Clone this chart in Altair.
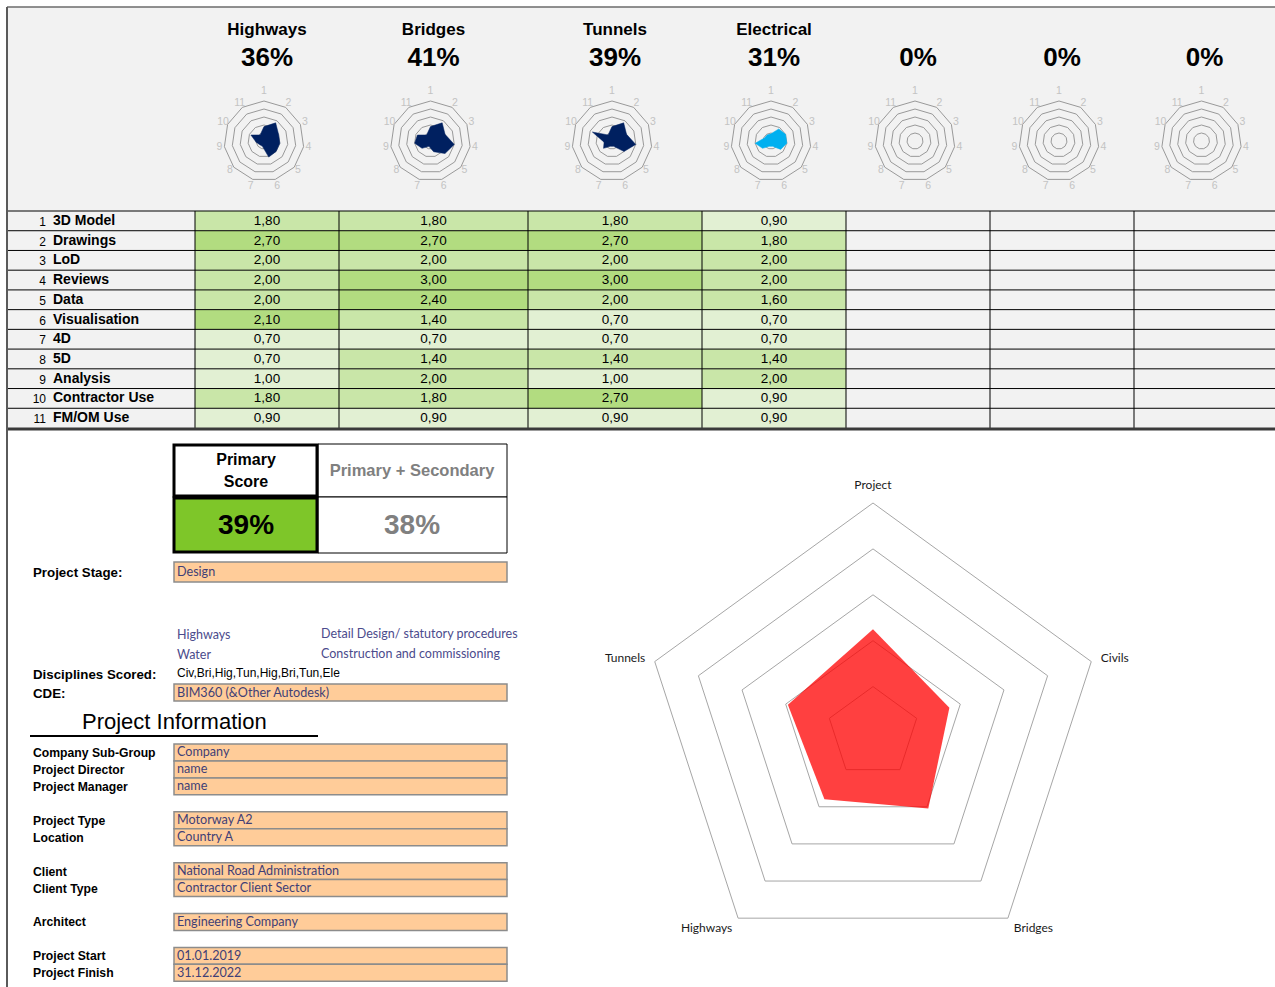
import altair as alt
import pandas as pd

# ------------------------------------------------------------------ data
disciplines = ["Highways", "Bridges", "Tunnels", "Electrical", "", "", ""]
discipline_scores = [36, 41, 39, 31, 0, 0, 0]
criteria = ["3D Model", "Drawings", "LoD", "Reviews", "Data", "Visualisation",
            "4D", "5D", "Analysis", "Contractor Use", "FM/OM Use"]
highways = [1.80, 2.70, 2.00, 2.00, 2.00, 2.10, 0.70, 0.70, 1.00, 1.80, 0.90]
bridges = [1.80, 2.70, 2.00, 3.00, 2.40, 1.40, 0.70, 1.40, 2.00, 1.80, 0.90]
tunnels = [1.80, 2.70, 2.00, 3.00, 2.00, 0.70, 0.70, 1.40, 1.00, 2.70, 0.90]
electrical = [0.90, 1.80, 2.00, 2.00, 1.60, 0.70, 0.70, 1.40, 2.00, 0.90, 0.90]
small_radar_max = 5
small_radar_rings = [1, 2, 3, 4, 5]

primary_score = 39
secondary_score = 38
primary_header = ["Primary", "Score"]
secondary_header = "Primary + Secondary"

overview_axes = ["Project", "Civils", "Bridges", "Highways", "Tunnels"]
overview_values = [45, 35, 41, 36, 39]
overview_rings = [20, 40, 60, 80, 100]
overview_max = 100

project_stage = "Design"
listed_disciplines = ["Highways", "Water"]
listed_stages = ["Detail Design/ statutory procedures", "Construction and commissioning"]
disciplines_scored = "Civ,Bri,Hig,Tun,Hig,Bri,Tun,Ele"
cde = "BIM360 (&Other Autodesk)"
info_labels = ["Company Sub-Group", "Project Director", "Project Manager", "Project Type",
               "Location", "Client", "Client Type", "Architect", "Project Start", "Project Finish"]
info_values = ["Company", "name", "name", "Motorway A2", "Country A",
               "National Road Administration", "Contractor Client Sector",
               "Engineering Company", "01.01.2019", "31.12.2022"]

# ------------------------------------------------------------------ layout / style
W, H = 1275, 987
col_edges = [7, 195, 339, 528, 702, 846, 990, 1134, 1275]
table_top, table_bottom = 211, 428
n_rows = len(criteria)
row_h = (table_bottom - table_top) / n_rows
small_cy, small_r, small_label_r = 141, 40, 45
big_cx, big_cy, big_r = 873, 732.5, 229.5
info_slots = [0, 1, 2, 4, 5, 7, 8, 10, 12, 13]
info_top, info_row_h = 744, 16.95
box_x0, box_x1 = 174, 507

ARIAL = "Liberation Sans"
CALIBRI = "Lato"
INPUT_TXT = "#3f3f76"
INPUT_FILL = "#ffcc99"
INPUT_STROKE = "#8c8c8c"
GREEN_LIGHT, GREEN_MID, GREEN_DARK = "#e2f0d3", "#c9e6a8", "#b2dc80"

XS = alt.Scale(domain=[0, W], range=[0, W], nice=False, zero=False)
YS = alt.Scale(domain=[0, H], range=[0, H], nice=False, zero=False)


def X(f="x"):
    return alt.X(f"{f}:Q", scale=XS, axis=None)


def Y(f="y"):
    return alt.Y(f"{f}:Q", scale=YS, axis=None)


def rects(df, **mark):
    return alt.Chart(df).mark_rect(**mark).encode(x=X("x0"), x2="x1", y=Y("y0"), y2="y1")


def texts(df, **mark):
    return alt.Chart(df).mark_text(**mark).encode(x=X(), y=Y(), text="text:N")


def hrules(df, **mark):
    return alt.Chart(df).mark_rule(**mark).encode(x=X("x0"), x2="x1", y=Y())


def vrules(df, **mark):
    return alt.Chart(df).mark_rule(**mark).encode(x=X(), y=Y("y0"), y2="y1")


layers = []

# ------------------------------------------------------------------ top section
layers.append(rects(pd.DataFrame({"x0": [7], "x1": [W], "y0": [7], "y1": [table_bottom]}),
                    color="#f2f2f2"))

col_centers = [(col_edges[i + 1] + col_edges[i + 2]) / 2 for i in range(len(disciplines))]
hdr = pd.DataFrame({"x": col_centers, "name": disciplines, "score": discipline_scores})
layers.append(alt.Chart(hdr).transform_filter("datum.name != ''").transform_calculate(
    y="30", text="datum.name").mark_text(font=ARIAL, fontSize=17, fontWeight="bold",
                                          color="#000", baseline="middle")
    .encode(x=X(), y=Y(), text="text:N"))
layers.append(alt.Chart(hdr).transform_calculate(y="58", text="datum.score + '%'")
              .mark_text(font=ARIAL, fontSize=26, fontWeight="bold", color="#000", baseline="middle")
              .encode(x=X(), y=Y(), text="text:N"))

# small radars
n_ax = len(criteria)
ring_rows = []
label_rows = []
for p, cx in enumerate(col_centers):
    cxr = cx - 3
    for ring in small_radar_rings:
        for k in range(n_ax + 1):
            ring_rows.append({"panel": p, "cx": cxr, "ring": ring, "k": k})
    for k in range(n_ax):
        label_rows.append({"panel": p, "cx": cxr, "k": k, "text": str(k + 1)})
small_rings = pd.DataFrame(ring_rows)
small_labels = pd.DataFrame(label_rows)

ang = f"2*PI*datum.k/{n_ax}"
layers.append(alt.Chart(small_rings).transform_calculate(
    x=f"datum.cx + datum.ring/{small_radar_max}*{small_r}*sin({ang})",
    y=f"{small_cy} - datum.ring/{small_radar_max}*{small_r}*cos({ang})",
    grp="datum.panel*100 + datum.ring"
).mark_line(color="#8f8f8f", strokeWidth=0.9).encode(x=X(), y=Y(), order="k:Q", detail="grp:N"))

series = [highways, bridges, tunnels, electrical]
poly_colors = ["#002060", "#002060", "#002060", "#00b0f0"]
for p, vals in enumerate(series):
    dfp = pd.DataFrame({"k": list(range(n_ax + 1)), "value": vals + [vals[0]],
                        "cx": col_centers[p] - 3})
    layers.append(alt.Chart(dfp).transform_calculate(
        x=f"datum.cx + datum.value/{small_radar_max}*{small_r}*sin({ang})",
        y=f"{small_cy} - datum.value/{small_radar_max}*{small_r}*cos({ang})"
    ).mark_line(fill=poly_colors[p], stroke=poly_colors[p], strokeWidth=0.5)
        .encode(x=X(), y=Y(), order="k:Q"))

layers.append(alt.Chart(small_labels).transform_calculate(
    lr=f"{small_label_r} + (datum.k == 0 ? 5 : 0) + (cos({ang}) < -0.9 ? 2 : 0)"
).transform_calculate(
    x=f"datum.cx + datum.lr*sin({ang})",
    y=f"{small_cy} - datum.lr*cos({ang})"
).mark_text(font=ARIAL, fontSize=10.5, color="#c3c3c3", baseline="middle")
    .encode(x=X(), y=Y(), text="text:N"))

# table cells
cell_rows = []
for c, vals in enumerate(series):
    for r, v in enumerate(vals):
        cell_rows.append({"x0": col_edges[c + 1], "x1": col_edges[c + 2],
                          "r": r, "value": v, "x": col_centers[c]})
cells = pd.DataFrame(cell_rows)
layers.append(alt.Chart(cells).transform_calculate(
    y0=f"{table_top} + datum.r*{row_h}", y1=f"{table_top} + (datum.r+1)*{row_h}"
).mark_rect().encode(
    x=X("x0"), x2="x1", y=Y("y0"), y2="y1",
    color=alt.Color("value:Q", legend=None,
                    scale=alt.Scale(type="threshold", domain=[1.2, 2.05],
                                    range=[GREEN_LIGHT, GREEN_MID, GREEN_DARK]))))

layers.append(alt.Chart(cells).transform_calculate(
    y=f"{table_top} + (datum.r+0.5)*{row_h}",
    text="replace(format(datum.value, '.2f'), '.', ',')"
).mark_text(font=ARIAL, fontSize=13.5, color="#000", baseline="middle")
    .encode(x=X(), y=Y(), text="text:N"))

rowlab = pd.DataFrame({"r": list(range(n_rows)), "name": criteria})
layers.append(alt.Chart(rowlab).transform_calculate(
    x="46", y=f"{table_top} + (datum.r+0.5)*{row_h} + 1", text="datum.r + 1"
).mark_text(font=ARIAL, fontSize=12, color="#000", baseline="middle", align="right")
    .encode(x=X(), y=Y(), text="text:N"))
layers.append(alt.Chart(rowlab).transform_calculate(
    x="53", y=f"{table_top} + (datum.r+0.5)*{row_h}", text="datum.name"
).mark_text(font=ARIAL, fontSize=14, fontWeight="bold", color="#000", baseline="middle",
            align="left").encode(x=X(), y=Y(), text="text:N"))

# table grid
hl = pd.DataFrame({"x0": 7, "x1": W, "y": [table_top + i * row_h for i in range(n_rows)]})
layers.append(hrules(hl, color="#000", strokeWidth=1))
vl = pd.DataFrame({"x": col_edges[1:-1], "y0": table_top, "y1": table_bottom})
layers.append(vrules(vl, color="#000", strokeWidth=1))
layers.append(hrules(pd.DataFrame({"x0": [7], "x1": [W], "y": [429]}), color="#3a3a3a",
                     strokeWidth=3))
layers.append(hrules(pd.DataFrame({"x0": [7], "x1": [W], "y": [7]}), color="#6b6b6b",
                     strokeWidth=1.5))
layers.append(vrules(pd.DataFrame({"x": [7], "y0": [7], "y1": [H]}), color="#5a5a5a",
                     strokeWidth=2))

# ------------------------------------------------------------------ score boxes
layers.append(rects(pd.DataFrame({"x0": [318, 318], "x1": [507, 507],
                                  "y0": [444, 497], "y1": [497, 553]}),
                    fill="#ffffff", stroke="#000", strokeWidth=1))
layers.append(rects(pd.DataFrame({"x0": [174], "x1": [317], "y0": [445], "y1": [496]}),
                    fill="#ffffff", stroke="#000", strokeWidth=3))
layers.append(rects(pd.DataFrame({"x0": [174], "x1": [317], "y0": [498], "y1": [552]}),
                    fill="#7ec629", stroke="#000", strokeWidth=3))
layers.append(texts(pd.DataFrame({"x": [246, 246], "y": [460, 482], "text": primary_header}),
                    font=ARIAL, fontSize=16, fontWeight="bold", color="#000", baseline="middle"))
layers.append(texts(pd.DataFrame({"x": [412], "y": [471], "text": [secondary_header]}),
                    font=ARIAL, fontSize=16.5, fontWeight="bold", color="#808080",
                    baseline="middle"))
layers.append(alt.Chart(pd.DataFrame({"x": [246], "y": [526], "v": [primary_score]}))
              .transform_calculate(text="datum.v + '%'")
              .mark_text(font=ARIAL, fontSize=28, fontWeight="bold", color="#000", baseline="middle")
              .encode(x=X(), y=Y(), text="text:N"))
layers.append(alt.Chart(pd.DataFrame({"x": [412], "y": [526], "v": [secondary_score]}))
              .transform_calculate(text="datum.v + '%'")
              .mark_text(font=ARIAL, fontSize=28, fontWeight="bold", color="#808080",
                         baseline="middle")
              .encode(x=X(), y=Y(), text="text:N"))

# ------------------------------------------------------------------ form
form_boxes = [(project_stage, 562, 582), (cde, 684, 701)]
head_labels = [("Project Stage:", 573), ("Disciplines Scored:", 675), ("CDE:", 694)]
form_labels = []
for lab, s in zip(info_labels, info_slots):
    y0 = info_top + s * info_row_h
    form_labels.append((lab, y0 + info_row_h / 2 + 0.5))
for val, s in zip(info_values, info_slots):
    y0 = info_top + s * info_row_h
    form_boxes.append((val, y0, y0 + info_row_h))

fb = pd.DataFrame({"text": [b[0] for b in form_boxes], "y0": [b[1] for b in form_boxes],
                   "y1": [b[2] for b in form_boxes], "x0": box_x0, "x1": box_x1})
fb["x"] = box_x0 + 3
fb["y"] = (fb["y0"] + fb["y1"]) / 2
layers.append(rects(fb, fill=INPUT_FILL, stroke=INPUT_STROKE, strokeWidth=1.5))
layers.append(texts(fb, font=CALIBRI, fontSize=12.6, color=INPUT_TXT, baseline="middle",
                    align="left"))
fl = pd.DataFrame({"text": [l[0] for l in form_labels], "y": [l[1] for l in form_labels],
                   "x": 33})
layers.append(texts(fl, font=ARIAL, fontSize=12.2, fontWeight="bold", color="#000",
                    baseline="middle", align="left"))
hlab = pd.DataFrame({"text": [l[0] for l in head_labels], "y": [l[1] for l in head_labels],
                     "x": 33})
layers.append(texts(hlab, font=ARIAL, fontSize=13.3, fontWeight="bold", color="#000",
                    baseline="middle", align="left"))

lst = pd.DataFrame({"text": listed_disciplines + listed_stages,
                    "x": [177, 177, 321, 321], "y": [635, 655, 634, 654]})
layers.append(texts(lst, font=CALIBRI, fontSize=12.5, color="#4b4b8c", baseline="middle",
                    align="left"))
layers.append(texts(pd.DataFrame({"text": [disciplines_scored], "x": [177], "y": [673]}),
                    font=ARIAL, fontSize=12, color="#000", baseline="middle", align="left"))

layers.append(texts(pd.DataFrame({"text": ["Project Information"], "x": [82], "y": [722]}),
                    font=ARIAL, fontSize=22, color="#000", baseline="middle", align="left"))
layers.append(hrules(pd.DataFrame({"x0": [30], "x1": [318], "y": [736]}), color="#000",
                     strokeWidth=2))

# ------------------------------------------------------------------ overview radar
n_big = len(overview_axes)
bang = f"2*PI*datum.k/{n_big}"
br = pd.DataFrame([{"ring": r, "k": k} for r in overview_rings for k in range(n_big + 1)])
layers.append(alt.Chart(br).transform_calculate(
    x=f"{big_cx} + datum.ring/{overview_max}*{big_r}*sin({bang})",
    y=f"{big_cy} - datum.ring/{overview_max}*{big_r}*cos({bang})"
).mark_line(color="#a6a6a6", strokeWidth=1).encode(x=X(), y=Y(), order="k:Q", detail="ring:N"))

bp = pd.DataFrame({"k": list(range(n_big + 1)), "value": overview_values + [overview_values[0]]})
layers.append(alt.Chart(bp).transform_calculate(
    x=f"{big_cx} + datum.value/{overview_max}*{big_r}*sin({bang})",
    y=f"{big_cy} - datum.value/{overview_max}*{big_r}*cos({bang})"
).mark_line(fill="#ff0000", fillOpacity=0.75, strokeWidth=0).encode(x=X(), y=Y(), order="k:Q"))

bl = pd.DataFrame({"k": list(range(n_big)), "text": overview_axes})
bl_base = alt.Chart(bl).transform_calculate(
    sn=f"sin({bang})", cs=f"cos({bang})"
).transform_calculate(
    rr=f"{big_r} + (abs(datum.sn) < 0.1 ? 18 : 10)",
    dy="datum.cs < -0.5 ? 2 : 0"
).transform_calculate(
    x=f"{big_cx} + datum.rr*datum.sn", y=f"{big_cy} - datum.rr*datum.cs + datum.dy"
)
for cond, al in [("datum.sn > 0.1", "left"), ("datum.sn < -0.1", "right"),
                 ("abs(datum.sn) <= 0.1", "center")]:
    layers.append(bl_base.transform_filter(cond).mark_text(
        font=CALIBRI, fontSize=12, color="#1a1a1a", baseline="middle", align=al)
        .encode(x=X(), y=Y(), text="text:N"))

chart = alt.layer(*layers).properties(
    width=W, height=H, padding=0, autosize=alt.AutoSizeParams(type="none"),
    background="#ffffff"
).configure_view(stroke=None)

chart.save("out.html", embed_options={"renderer": "svg", "actions": False})
